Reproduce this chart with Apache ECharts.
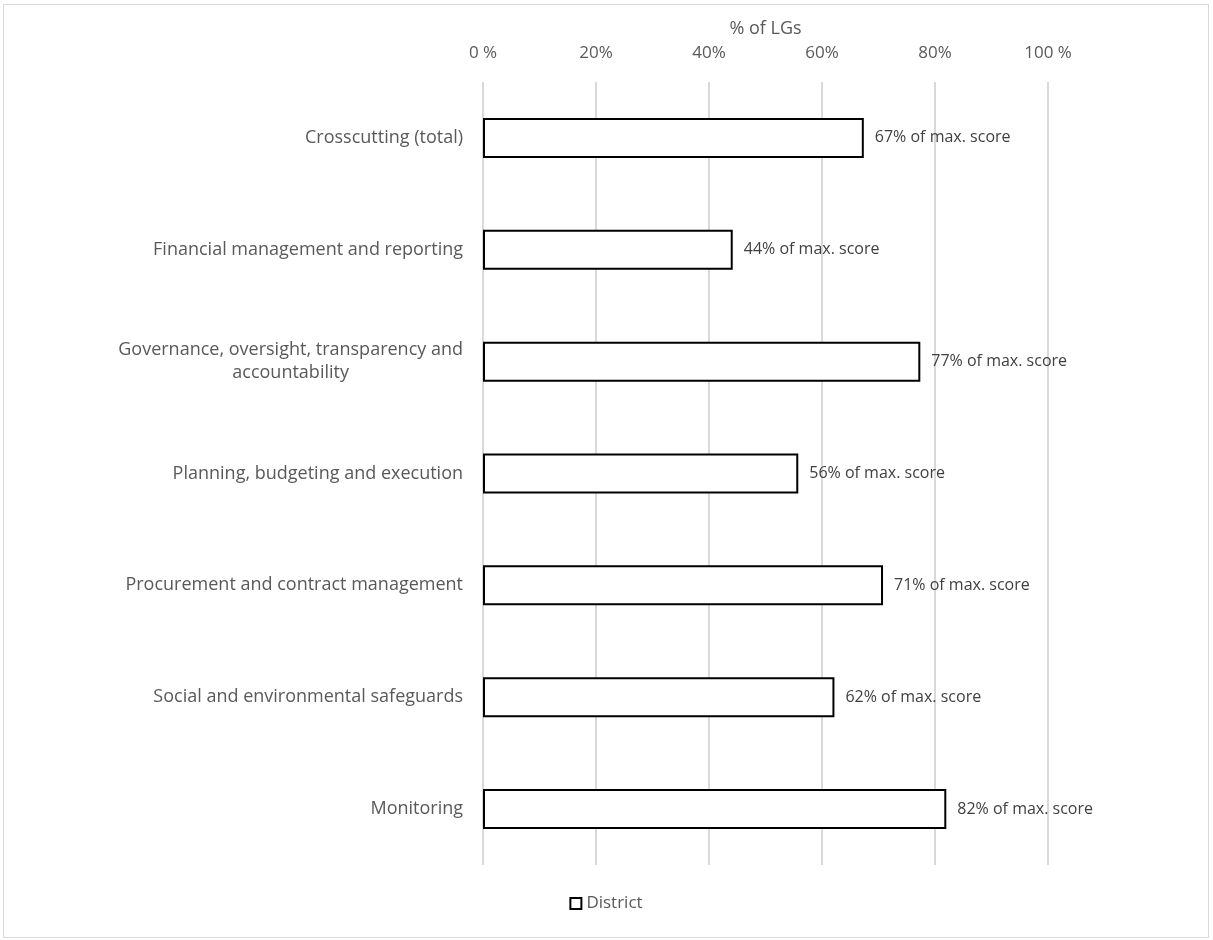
<!DOCTYPE html>
<html>
<head>
<meta charset="utf-8">
<script src="https://cdn.jsdelivr.net/npm/echarts@6/dist/echarts.min.js"></script>
<style>
  body { margin: 0; background: #fff; }
  #chart {
    position: absolute;
    left: 3px;
    top: 4px;
    width: 1204px;
    height: 932px;
    border: 1px solid #d9d9d9;
  }
</style>
</head>
<body>
<div id="chart"></div>
<script>
  // categories, top to bottom
  const categories = [
    'Crosscutting (total)',
    'Financial management and reporting',
    'Governance, oversight, transparency and\naccountability',
    'Planning, budgeting and execution',
    'Procurement and contract management',
    'Social and environmental safeguards',
    'Monitoring'
  ]
  // % of max. score (District)
  const districtValues = [67.4, 44.2, 77.4, 55.8, 70.8, 62.2, 82.0]
  const barLabels = ['67%', '44%', '77%', '56%', '71%', '62%', '82%']
  const xTicks = [0, 20, 40, 60, 80, 100]

  const font = '"Open Sans", Lato, sans-serif'
  const chart = echarts.init(document.getElementById('chart'))

  chart.setOption({
    animation: false,
    textStyle: { fontFamily: font },
    grid: { left: 479, width: 565, top: 77, height: 783 },
    xAxis: {
      type: 'value',
      position: 'top',
      min: xTicks[0],
      max: xTicks[xTicks.length - 1],
      interval: 20,
      name: '% of LGs',
      nameLocation: 'middle',
      nameGap: 44,
      nameTextStyle: { color: '#595959', fontSize: 18, fontFamily: font },
      axisLine: { show: false },
      axisTick: { show: false },
      axisLabel: {
        margin: 20,
        color: '#595959',
        fontSize: 17,
        formatter: (v) => (v === 0 || v === 100) ? v + ' %' : v + '%'
      },
      splitLine: { lineStyle: { color: '#d9d9d9', width: 2 } }
    },
    yAxis: {
      type: 'category',
      inverse: true,
      data: categories,
      axisLine: { show: false },
      axisTick: { show: false },
      axisLabel: {
        margin: 20,
        color: '#595959',
        fontSize: 18,
        lineHeight: 23,
        formatter: (v) => v.split('\n').map((s) => '{a|' + s + '}').join('\n'),
        rich: { a: { align: 'center', color: '#595959', fontSize: 18, lineHeight: 23, fontFamily: font } }
      }
    },
    legend: {
      data: ['District'],
      bottom: 20,
      left: 'center',
      icon: 'rect',
      itemWidth: 11,
      itemHeight: 11,
      itemGap: 8,
      textStyle: { color: '#595959', fontSize: 17, fontFamily: font }
    },
    series: [
      {
        name: 'District',
        type: 'bar',
        data: districtValues,
        barWidth: 40,
        itemStyle: { color: '#ffffff', borderColor: '#000000', borderWidth: 2 },
        label: {
          show: true,
          position: 'right',
          distance: 11,
          color: '#404040',
          fontSize: 16,
          fontFamily: font,
          formatter: (p) => barLabels[p.dataIndex] + ' of max. score'
        }
      }
    ]
  })
</script>
</body>
</html>
